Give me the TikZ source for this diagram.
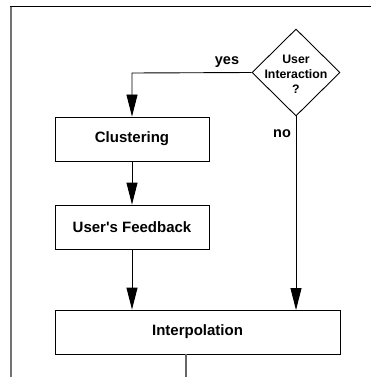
\documentclass[tikz,border=0pt]{standalone}
\usepackage{fontspec}
\setmainfont{Liberation Sans}[Ligatures=TeXOff]
\usetikzlibrary{arrows.meta,shapes.geometric}
\begin{document}
\begin{tikzpicture}[x=1pt,y=-1pt,
  box/.style={draw=black,line width=0.9pt,minimum width=154pt,minimum height=44pt,inner sep=0pt,font=\fontsize{15}{18}\selectfont\bfseries},
  flow/.style={draw=black,line width=0.9pt,-{Triangle[length=22pt,width=11pt]}},
  lbl/.style={font=\fontsize{14.5}{17}\selectfont\bfseries,inner sep=0pt},
  dec/.style={draw=black,line width=0.9pt,diamond,minimum width=88pt,minimum height=87pt,inner sep=0pt},
  dtext/.style={align=center,inner sep=0pt,font=\fontsize{12.3}{15}\selectfont\bfseries}]
\useasboundingbox (0,0) rectangle (371,377);
\draw[black!55,line width=1.5pt] (11,377) -- (11,7);
\draw[black,line width=1pt] (10.25,7) -- (371,7);
\node[dec] (ui) at (296,72.5) {};
\node[dtext] (uit) at (296,74) {User\\Interaction\\?};
\node[box] (cl) at (132,139) {Clustering};
\node[box] (fb) at (132,227) {User's Feedback};
\node[box,minimum width=285pt] (ip) at (197.5,332) {Interpolation};
\coordinate (yc) at (132,73);
\coordinate (nb) at (296,310);
\coordinate (ib) at (186,354);
\coordinate (ie) at (186,377);
\draw[flow] (ui.west) -- (yc) -- (cl.north);
\draw[flow] (cl) -- (fb);
\draw[flow] (fb.south) -- (fb.south |- ip.north);
\draw[flow] (ui.south) -- (nb);
\draw[black!60,line width=1.5pt] (ib) -- (ie);
\node[lbl] (yes) at (227,62) {yes};
\node[lbl] (no) at (282,134) {no};
\end{tikzpicture}
\end{document}
